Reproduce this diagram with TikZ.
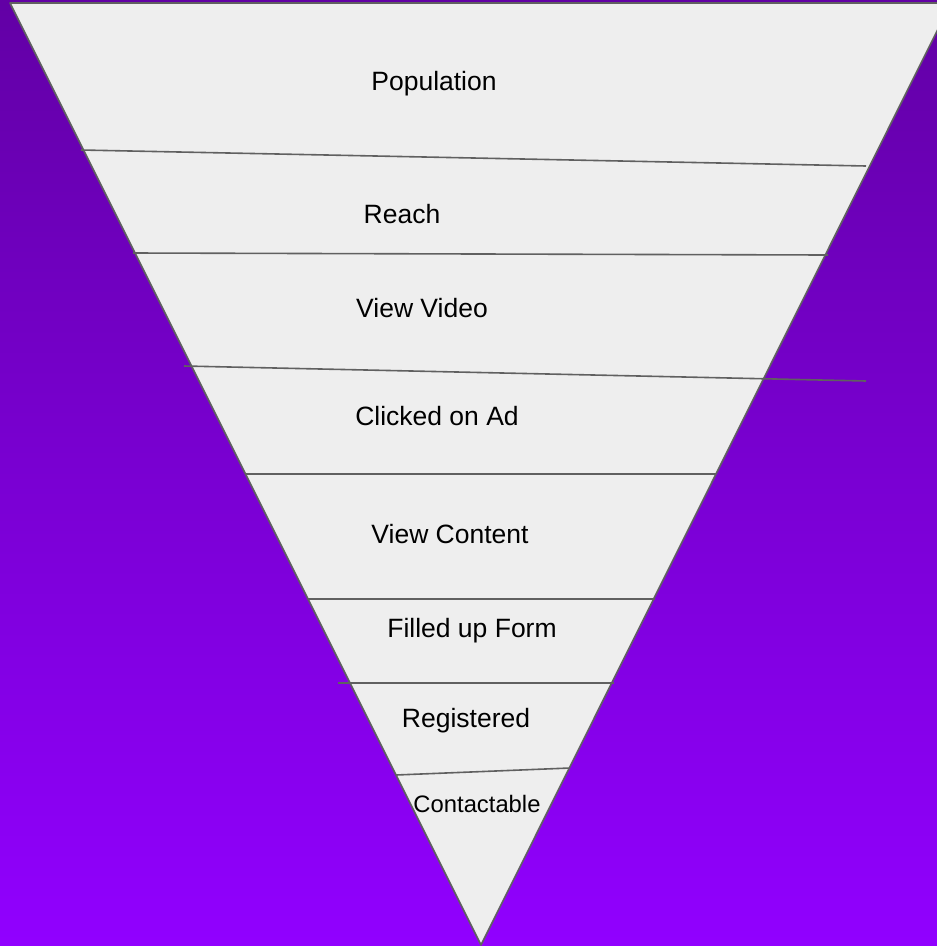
\documentclass[tikz,border=0pt]{standalone}
\usepackage{fontspec}
\setmainfont{Liberation Sans}
\definecolor{bgtop}{RGB}{98,0,165}
\definecolor{bgbottom}{RGB}{145,0,255}
\definecolor{funnelfill}{RGB}{238,238,238}
\definecolor{edgegrey}{RGB}{96,96,96}
\begin{document}
\begin{tikzpicture}[x=1pt, y=-1pt,
  stage/.style={anchor=base, font=\fontsize{26.5}{30}\selectfont, inner sep=0pt},
  divider/.style={draw=edgegrey, line width=1.6pt}]
\useasboundingbox (0,0) rectangle (937,946);
\clip (0,0) rectangle (937,946);
\shade[top color=bgtop, bottom color=bgbottom] (0,0) rectangle (937,946);
\coordinate (TL) at (10,3);
\coordinate (TR) at (951,3);
\coordinate (tip) at (481,945);
\filldraw[fill=funnelfill, draw=edgegrey, line width=1.6pt, line join=round] (TL) -- (TR) -- (tip) -- cycle;
\draw[divider] (81,150) -- (866,166);
\draw[divider] (133,253) -- (828,255);
\draw[divider] (184,366) -- (866,381);
\draw[divider] (245,474) -- (716,474);
\draw[divider] (307,599) -- (655,599);
\draw[divider] (338,683) -- (614,683);
\draw[divider] (396,775) -- (570,768);
\node[stage] (pop) at (434,90) {Population};
\node[stage] (reach) at (402,223) {Reach};
\node[stage] (video) at (422,317) {View Video};
\node[stage] (click) at (437,425) {Clicked on Ad};
\node[stage] (content) at (450,543) {View Content};
\node[stage] (form) at (472,637) {Filled up Form};
\node[stage] (reg) at (466,727) {Registered};
\node[stage, font=\fontsize{23.8}{27}\selectfont] (contact) at (477,812) {Contactable};
\end{tikzpicture}
\end{document}
